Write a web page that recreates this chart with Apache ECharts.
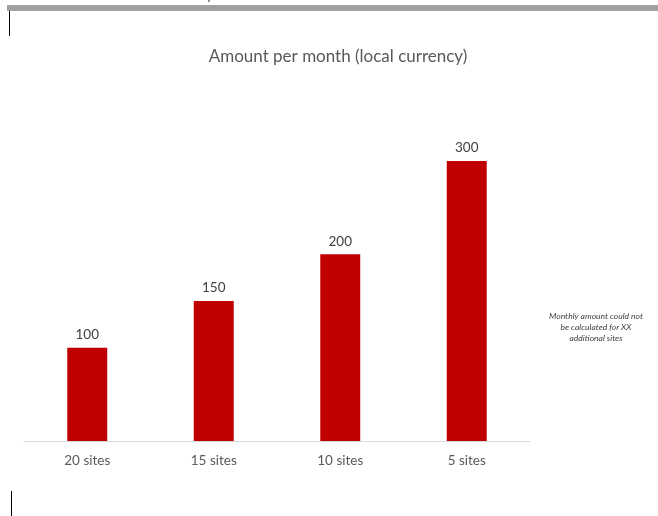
<!DOCTYPE html>
<html><head><meta charset="utf-8">
<script src="https://cdn.jsdelivr.net/npm/echarts@6/dist/echarts.min.js"></script>
<style>html,body{margin:0;padding:0;background:#fff}#c{width:658px;height:516px}</style>
</head><body><div id="c"></div>
<script>
const categories = ['20 sites', '15 sites', '10 sites', '5 sites'];
const values = [100, 150, 200, 300];
const titleText = 'Amount per month (local currency)';
const noteText = 'Monthly amount could not\nbe calculated for XX\nadditional sites';

const chart = echarts.init(document.getElementById('c'));
chart.setOption({
  animation: false,
  backgroundColor: '#fff',
  title: {
    text: titleText, left: 333, top: 43, textAlign: 'center',
    textStyle: { fontFamily: 'Lato', fontSize: 17, fontWeight: 'normal', color: '#595959' }
  },
  grid: { left: 24, right: 128, top: 161, bottom: 75 },
  xAxis: {
    type: 'category', data: categories,
    axisLine: { lineStyle: { color: '#d9d9d9', width: 1 } },
    axisTick: { show: false },
    axisLabel: { fontFamily: 'Lato', fontSize: 13.5, color: '#595959', margin: 13 }
  },
  yAxis: { type: 'value', min: 0, max: 300, show: false, splitLine: { show: false } },
  series: [{
    type: 'bar', data: values, barWidth: '31.6%',
    itemStyle: { color: '#c00000' },
    label: { show: true, position: 'top', distance: 6, fontFamily: 'Lato', fontSize: 13.5, color: '#404040' }
  }],
  graphic: [
    { type: 'rect', shape: { x: 7, y: 5, width: 651, height: 6 }, style: { fill: '#a0a0a0' } },
    { type: 'rect', shape: { x: 208, y: 0, width: 2, height: 2 }, style: { fill: '#909090' } },
    { type: 'rect', shape: { x: 9, y: 11, width: 1, height: 25 }, style: { fill: '#000' } },
    { type: 'rect', shape: { x: 11, y: 491, width: 1, height: 25 }, style: { fill: '#000' } },
    { type: 'text', style: { x: 596, y: 311, text: noteText, align: 'center', verticalAlign: 'top', fontFamily: 'Lato', fontStyle: 'italic', fontSize: 8.5, lineHeight: 11, fill: '#404040' } }
  ]
});
</script></body></html>
